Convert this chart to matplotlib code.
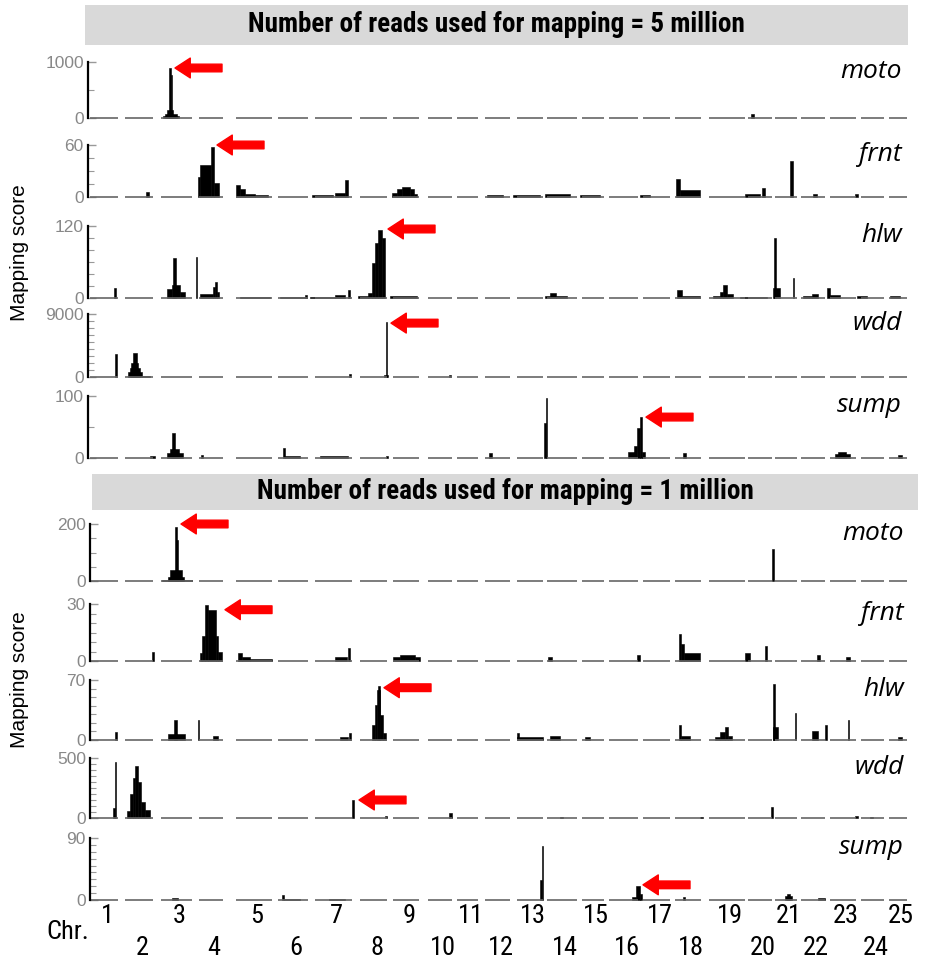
import matplotlib
matplotlib.use('Agg')
import matplotlib.pyplot as plt
from matplotlib.patches import Rectangle

plt.rcParams['font.family'] = ['Liberation Sans', 'DejaVu Sans']
NARROW = ['Roboto Condensed', 'Liberation Sans Narrow', 'DejaVu Sans']

# chromosome extents (cumulative genome position, plot units)
chroms = [str(i) for i in range(1, 26)]
chrom_start = [90, 125, 161, 199, 236, 278, 315, 360, 393, 428, 457, 485, 517,
               547, 582, 609, 643, 675, 709, 748, 775, 801, 830, 861, 889]
chrom_end = [118, 153, 192, 223, 272, 308, 352, 387, 419, 452, 478, 510, 543,
             577, 604, 638, 670, 701, 745, 772, 797, 825, 856, 884, 907]

mutants = ['moto', 'frnt', 'hlw', 'wdd', 'sump']
sections = ['Number of reads used for mapping = 5 million',
            'Number of reads used for mapping = 1 million']

# y-axis top value and minor tick step for every panel
ymax_5m = [1000, 60, 120, 9000, 100]
ystep_5m = [500, 15, 20, 1000, 50]
ymax_1m = [200, 30, 70, 500, 90]
ystep_1m = [50, 5, 10, 50, 10]

# mapping score blocks: (start, end, score)
moto_5m = [(163, 179, 30), (165, 177, 70), (167, 173, 150), (169, 170.5, 893),
           (170.5, 172, 770), (751, 754, 70)]
frnt_5m = [(146, 149, 6), (198, 200, 23), (200, 211, 37), (211, 213.5, 58),
           (213.5, 219, 16), (236, 240, 14), (240, 245, 9), (245, 255, 4),
           (255, 268, 2), (312, 333, 2), (335, 345, 5), (345, 348, 20),
           (392, 397, 5), (397, 402, 9), (402, 410, 12), (410, 414, 9),
           (414, 417, 4), (487, 503, 2), (513, 540, 2), (545, 570, 3),
           (580, 600, 2), (640, 650, 2), (676, 680, 21), (680, 700, 8),
           (745, 760, 3), (762, 765, 10), (790, 793, 41), (813, 817, 4),
           (855, 858, 3)]
hlw_5m = [(114, 116, 17), (167, 172, 15), (172, 180, 22), (180, 185, 10),
          (172.5, 176, 67), (195.5, 197, 68), (200, 213, 6), (213, 215, 18),
          (215, 217, 27), (217, 219, 10), (240, 270, 2), (280, 307, 2),
          (305, 307, 5), (310, 335, 2), (335, 345, 5), (348, 350, 13),
          (358, 368, 3), (368, 372, 8), (372, 375, 58), (375, 378, 92),
          (378, 382, 113), (382, 385, 100), (390, 417, 3), (545, 550, 4),
          (550, 556, 8), (556, 567, 3), (677, 682, 13), (682, 700, 3),
          (713, 720, 4), (720, 723, 10), (723, 727, 22), (727, 733, 7),
          (740, 767, 2), (773, 780, 17), (773.5, 775.5, 100), (792.5, 794, 33),
          (803, 812, 4), (812, 818, 6), (827, 830, 17), (830, 840, 5),
          (857, 867, 3), (890, 900, 3)]
wdd_5m = [(115, 117, 3300), (128, 142, 700), (130, 140, 1300), (131, 138, 2000),
          (133, 137, 3400), (142, 150, 150), (349, 351, 400), (384, 388, 300),
          (385.5, 387, 7900), (449, 451, 300)]
sump_5m = [(150, 155, 3), (167, 183, 8), (170, 179, 14), (172, 175, 40),
           (201, 203, 5), (283, 285, 16), (285, 300, 3), (320, 348, 3),
           (386, 388, 4), (489, 492, 8), (544, 546, 56), (545.5, 547, 97),
           (628, 636, 10), (634, 637, 20), (637, 640, 48), (640, 642, 66),
           (642, 645, 10), (683, 686, 8), (835, 850, 7), (838, 846, 10),
           (898, 902, 5)]

moto_1m = [(162, 192, 5), (168, 184, 15), (170, 182, 39), (176, 178, 144),
           (175, 176.5, 190), (772, 774, 112)]
frnt_1m = [(152, 154, 5), (200, 202, 4), (202, 205, 13), (205, 208, 29.5),
           (208, 216, 27), (216, 218, 13), (218, 222, 5), (238, 242, 4),
           (242, 250, 2), (250, 272, 1), (335, 347, 2), (348, 350, 7),
           (393, 400, 2), (400, 415, 3), (415, 420, 2), (548, 552, 2),
           (637, 640, 3), (679, 681, 14), (681, 684, 9), (684, 700, 4),
           (745, 750, 4), (765, 767, 8), (817, 820, 3), (846, 850, 2)]
hlw_1m = [(115, 117, 9), (168, 185, 7), (174, 177, 23), (197.5, 199, 23),
          (213, 218, 5), (340, 348, 4), (349, 351, 8), (372, 375, 17),
          (375, 377, 41), (377, 380, 58), (378, 379.5, 63), (380, 383, 29),
          (383, 386, 8), (517, 543, 3), (517, 519, 8), (550, 560, 5),
          (585, 590, 4), (679, 681, 17), (681, 690, 5), (715, 720, 4),
          (720, 725, 9), (725, 728, 15), (728, 732, 5), (773, 778, 15),
          (773, 775, 65), (794.5, 796, 31), (812, 818, 10), (825, 827, 17),
          (847.5, 849, 23), (898, 902, 3)]
wdd_1m = [(113, 115, 83), (114.5, 116, 467), (127, 130, 60), (130, 133, 200),
          (133, 135, 330), (135, 138, 433), (138, 141, 300), (141, 145, 130),
          (145, 150, 70), (352, 354, 150), (385, 387, 15), (449, 452, 40),
          (560, 563, 12), (700, 703, 12), (771, 773, 90), (855, 858, 15),
          (870, 873, 12)]
sump_1m = [(172, 178, 3), (282, 284, 7), (284, 300, 2), (329, 345, 2),
           (540, 542, 29), (541.5, 543, 78), (632, 636, 5), (636, 640, 20),
           (640, 642, 8), (683, 685, 4), (785, 792, 6), (787, 790, 9),
           (818, 825, 3)]

# where the red arrows point (genome position, score)
arrow_5m = [(172, 893), (214, 60), (385, 115), (388, 7700), (643, 66)]
arrow_1m = [(178, 200), (222, 27), (381, 61), (356, 150), (640, 22)]

W, H = 925, 966
fig = plt.figure(figsize=(W / 100, H / 100), dpi=100)


def draw_panel(left, top, zero, right, name, blocks, ymax, ystep, arrow):
    pad = 0.03
    bottom = zero + pad * (zero - top)
    ax = fig.add_axes([left / W, 1 - bottom / H, (right - left) / W, (bottom - top) / H])
    ax.set_xlim(left, right)
    ax.set_ylim(-pad * ymax, ymax)
    ax.hlines([0] * len(chrom_start), chrom_start, chrom_end, color='#666666', lw=1.2)
    for x0, x1, h in blocks:
        ax.bar(x0, h, width=x1 - x0, align='edge', color='black',
               edgecolor='black', linewidth=0.4)
    for s in ['top', 'right', 'bottom']:
        ax.spines[s].set_visible(False)
    ax.spines['left'].set_bounds(0, ymax)
    ax.spines['left'].set_linewidth(1.6)
    ax.set_xticks([])
    ax.set_yticks([0, ymax])
    ax.set_yticks(list(range(ystep, ymax, ystep)), minor=True)
    ax.tick_params(axis='y', which='both', direction='in', color='#999999',
                   labelcolor='#888888', labelsize=12.5, pad=3)
    ax.tick_params(axis='y', which='major', length=6, width=1)
    ax.tick_params(axis='y', which='minor', length=4, width=0.8)
    ax.text(0.99, 1 - 9 / (bottom - top), name, transform=ax.transAxes,
            ha='right', va='center', style='italic', fontsize=19,
            family=['Open Sans', 'DejaVu Sans'])
    ax.annotate('', xy=(arrow[0] + 3, arrow[1]), xytext=(arrow[0] + 50, arrow[1]),
                arrowprops=dict(arrowstyle='simple,head_length=1.0,head_width=1.3,tail_width=0.5',
                                color='#ff0000', mutation_scale=11, shrinkA=0, shrinkB=0))
    return ax


blocks_5m = [moto_5m, frnt_5m, hlw_5m, wdd_5m, sump_5m]
blocks_1m = [moto_1m, frnt_1m, hlw_1m, wdd_1m, sump_1m]

# panel rows in pixels: (top of axis, zero line)
rows_5m = [(62, 118), (145, 197), (226, 298), (314, 377), (396, 458)]
rows_1m = [(524, 581), (604, 661), (680, 740), (758, 818), (838, 900)]

for i in range(5):
    draw_panel(88, rows_5m[i][0], rows_5m[i][1], 910, mutants[i], blocks_5m[i],
               ymax_5m[i], ystep_5m[i], arrow_5m[i])
axes_1m = []
for i in range(5):
    axes_1m.append(draw_panel(90, rows_1m[i][0], rows_1m[i][1], 912, mutants[i], blocks_1m[i],
                              ymax_1m[i], ystep_1m[i], arrow_1m[i]))

# header bars
for (x0, y0, x1, y1), label in zip([(85, 5, 908, 45), (92, 474, 918, 510)], sections):
    fig.patches.append(Rectangle((x0 / W, 1 - y1 / H), (x1 - x0) / W, (y1 - y0) / H,
                                 transform=fig.transFigure, facecolor='#d9d9d9',
                                 edgecolor='none'))
    fig.text((x0 + x1) / 2 / W, 1 - (y0 + y1) / 2 / H, label, ha='center', va='center',
             fontsize=19.5, fontweight='bold', fontstretch='condensed', family=NARROW)

fig.text(20 / W, 1 - 253 / H, 'Mapping score', rotation=90, ha='center', va='center',
         fontsize=15)
fig.text(20 / W, 1 - 680 / H, 'Mapping score', rotation=90, ha='center', va='center',
         fontsize=15)

# chromosome labels under the last panel
ax = axes_1m[-1]
for i, c in enumerate(chroms):
    mid = (chrom_start[i] + chrom_end[i]) / 2 + 3
    dy = -10 if i % 2 == 0 else -33
    ax.annotate(c, xy=(mid, 0), xycoords=('data', 'axes fraction'),
                xytext=(0, dy), textcoords='offset points', ha='center', va='center',
                fontsize=19, fontstretch='condensed', family=NARROW)
fig.text(68 / W, 1 - 932 / H, 'Chr.', ha='center', va='center', fontsize=19,
         fontstretch='condensed', family=NARROW)

fig.savefig('out.png', dpi=100)
